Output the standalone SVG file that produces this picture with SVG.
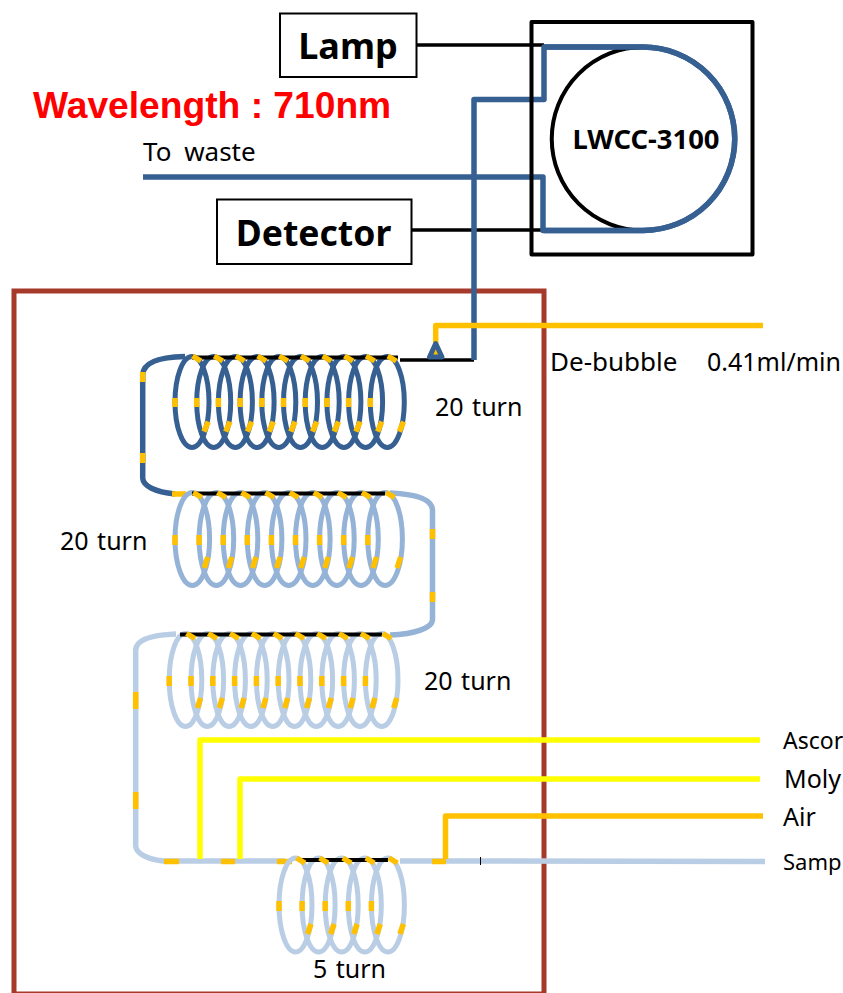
<svg xmlns="http://www.w3.org/2000/svg" width="843" height="993" viewBox="0 0 843 993">
<style>
text{font-family:"Noto Sans","Open Sans",sans-serif;fill:#000;font-size:25px}
.b{font-weight:700}
.sp{word-spacing:2px}
.pipe,.loop{fill:none;stroke-linejoin:round}
.pipe{stroke-width:5.5}
.loop{stroke-width:5}
.k{stroke:#000;fill:none}
.d{stroke:#376092}.m{stroke:#95B3D7}.l{stroke:#B9CDE5}
.o{stroke:#FFC000}.y{stroke:#FFFF00}
.dash{fill:none;stroke:#FFC000;stroke-width:5.5}
</style>
<defs>
<ellipse id="e1" class="loop" rx="17" ry="45.5"/>
<ellipse id="e2" class="loop" rx="17.300" ry="46.500"/>
<ellipse id="e3" class="loop" rx="16.300" ry="46.500"/>
<ellipse id="e4" class="loop" rx="16.500" ry="47"/>
<path id="t1" class="dash" d="M-17-4V5M0.500-46L9-41M16.300 19.700L12 29.700"/>
<path id="t2" class="dash" d="M-17.300-4V6M1-46.500L9.500-41.500M15.500 18L12 29"/>
<path id="t3" class="dash" d="M-16.300-4V6M1-46.500L9.500-41.500M15 18L12 28"/>
<path id="t4" class="dash" d="M-16.500-4V6M1-47L9.500-42M15.500 19L12 29"/>
</defs>

<g id="title"><text x="33" y="118" style="font-family:'Liberation Sans',sans-serif;font-size:37.200px;font-weight:700;fill:#FF0000">Wavelength : 710nm</text></g>

<g id="enclosure"><rect x="14" y="291" width="530" height="703" fill="none" stroke="#A5392A" stroke-width="5"/></g>

<g id="connectors">
<path class="k" stroke-width="3.500" d="M417 45H544M412 230H543M400 360H474"/>
<path class="pipe d" d="M143 177H543V230.500H643A91.750 91.750 0 0 0 643 47H544V99.500H474V360"/>
<path class="pipe d" d="M185 356.500C160 357 143 362 142.700 375V478C143 486 155 492 175 494"/>
<path class="pipe m" d="M390 493C415 494 432 499 432.500 510V620C432 628 415 634 390 635"/>
<path class="pipe l" d="M176 634C150 635 136 640 135.700 650V846C136 853 146 859 163 861H285M400 861H480L765 861.500"/>
<path class="k" stroke-width="1" d="M480.500 857V865"/>
<path class="pipe y" d="M200 859V740H760M240 859V779H760"/>
<path class="pipe o" d="M445.500 859V816H763"/>
<path class="pipe o" d="M435.700 344V325.500H763"/>
<path d="M435.700 343.500L429.500 357H442Z" fill="#FFC000" stroke="#376092" stroke-width="5" stroke-linejoin="round"/>
<path class="dash" d="M142.700 372V382M142.700 453V463M172 494H186M432.500 529V539M432.500 592V602M135.700 692V709M135.700 792V809M164 861.500H179M221 861.500H235M277 861.500H292M432 861.500H446"/>
</g>

<g id="lamp"><rect x="280" y="13.500" width="136.500" height="63.500" fill="#fff" stroke="#000" stroke-width="2"/><text class="b" x="348" y="59" text-anchor="middle" style="font-size:36px">Lamp</text></g>
<g id="detector"><rect x="217" y="199.500" width="194.500" height="64.500" fill="#fff" stroke="#000" stroke-width="2"/><text class="b" x="313.500" y="246" text-anchor="middle" style="font-size:35.500px">Detector</text></g>
<g id="lwcc">
<rect x="531.500" y="22" width="221" height="232.500" fill="none" stroke="#000" stroke-width="4" stroke-linejoin="round"/>
<path d="M643.500 47A91.750 91.750 0 0 0 643.500 230.500" fill="none" stroke="#000" stroke-width="4"/>
<path class="pipe d" d="M643 47H544M544 230.500H643A91.750 91.750 0 0 0 643 47"/>
<text class="b" x="646" y="149" text-anchor="middle" style="font-size:27.400px">LWCC-3100</text>
</g>

<g id="coil1" class="d"><use href="#e1" x="192" y="402"/><use href="#e1" x="213.700" y="402"/><use href="#e1" x="235.400" y="402"/><use href="#e1" x="257.100" y="402"/><use href="#e1" x="278.800" y="402"/><use href="#e1" x="300.500" y="402"/><use href="#e1" x="322.200" y="402"/><use href="#e1" x="343.900" y="402"/><use href="#e1" x="365.600" y="402"/><use href="#e1" x="387.300" y="402"/>
<path class="k" stroke-width="4" d="M192 357.500H398"/>
<use href="#t1" x="192" y="402"/><use href="#t1" x="213.700" y="402"/><use href="#t1" x="235.400" y="402"/><use href="#t1" x="257.100" y="402"/><use href="#t1" x="278.800" y="402"/><use href="#t1" x="300.500" y="402"/><use href="#t1" x="322.200" y="402"/><use href="#t1" x="343.900" y="402"/><use href="#t1" x="365.600" y="402"/><use href="#t1" x="387.300" y="402"/></g>
<g id="coil2" class="m"><use href="#e2" x="192.300" y="539"/><use href="#e2" x="216.400" y="539"/><use href="#e2" x="240.500" y="539"/><use href="#e2" x="264.600" y="539"/><use href="#e2" x="288.700" y="539"/><use href="#e2" x="312.800" y="539"/><use href="#e2" x="336.900" y="539"/><use href="#e2" x="361" y="539"/><use href="#e2" x="385.100" y="539"/>
<path class="k" stroke-width="4" d="M192 493.500H385"/>
<use href="#t2" x="192.300" y="539"/><use href="#t2" x="216.400" y="539"/><use href="#t2" x="240.500" y="539"/><use href="#t2" x="264.600" y="539"/><use href="#t2" x="288.700" y="539"/><use href="#t2" x="312.800" y="539"/><use href="#t2" x="336.900" y="539"/><use href="#t2" x="361" y="539"/><use href="#t2" x="385.100" y="539"/></g>
<g id="coil3" class="l"><use href="#e3" x="185.500" y="680"/><use href="#e3" x="207.300" y="680"/><use href="#e3" x="229.100" y="680"/><use href="#e3" x="250.900" y="680"/><use href="#e3" x="272.700" y="680"/><use href="#e3" x="294.500" y="680"/><use href="#e3" x="316.300" y="680"/><use href="#e3" x="338.100" y="680"/><use href="#e3" x="359.900" y="680"/><use href="#e3" x="381.700" y="680"/>
<path class="k" stroke-width="4" d="M180 634.500H382"/>
<use href="#t3" x="185.500" y="680"/><use href="#t3" x="207.300" y="680"/><use href="#t3" x="229.100" y="680"/><use href="#t3" x="250.900" y="680"/><use href="#t3" x="272.700" y="680"/><use href="#t3" x="294.500" y="680"/><use href="#t3" x="316.300" y="680"/><use href="#t3" x="338.100" y="680"/><use href="#t3" x="359.900" y="680"/><use href="#t3" x="381.700" y="680"/></g>
<g id="coil4" class="l"><use href="#e4" x="295.500" y="905"/><use href="#e4" x="318.600" y="905"/><use href="#e4" x="341.700" y="905"/><use href="#e4" x="364.800" y="905"/><use href="#e4" x="387.900" y="905"/>
<path class="k" stroke-width="4" d="M298 860H388"/>
<use href="#t4" x="295.500" y="905"/><use href="#t4" x="318.600" y="905"/><use href="#t4" x="341.700" y="905"/><use href="#t4" x="364.800" y="905"/><use href="#t4" x="387.900" y="905"/></g>

<g id="labels">
<text x="143" y="161" style="word-spacing:6px;font-size:26px">To waste</text>
<text x="550" y="371" style="font-size:26px">De-bubble</text>
<text x="707" y="371">0.41ml/min</text>
<text class="sp" x="435" y="416">20 turn</text>
<text class="sp" x="60" y="550">20 turn</text>
<text class="sp" x="424" y="690">20 turn</text>
<text class="sp" x="313" y="978">5 turn</text>
<text x="783" y="749" style="font-size:23px">Ascor</text>
<text x="784" y="788">Moly</text>
<text x="783" y="826">Air</text>
<text x="783" y="870" style="font-size:22px">Samp</text>
</g>
</svg>
